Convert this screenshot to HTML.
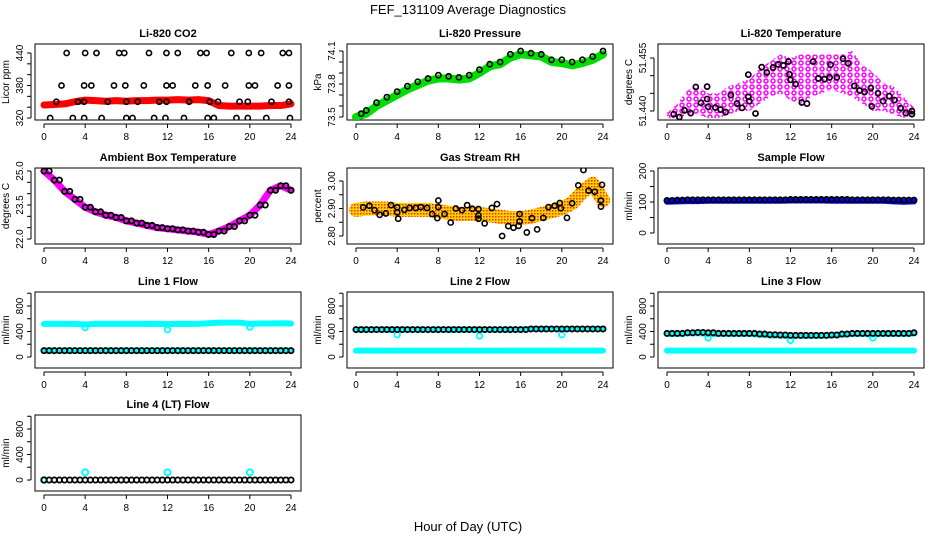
<!DOCTYPE html>
<html><head><meta charset="utf-8"><style>
body{margin:0;background:#fff;}
svg{display:block;font-family:"Liberation Sans",sans-serif;}
</style></head><body>
<svg id="chart" width="936" height="540" viewBox="0 0 936 540">
<defs>
<pattern id="rhpat" width="3" height="3" patternUnits="userSpaceOnUse"><rect width="3" height="3" fill="#ffd000"/><rect width="1.5" height="1.5" fill="#f03010"/></pattern>
<pattern id="magpat" width="7" height="6" patternUnits="userSpaceOnUse"><circle cx="3" cy="3" r="2" fill="none" stroke="#ff00ff" stroke-width="1.5"/></pattern>
</defs>
<text x="468" y="14" text-anchor="middle" font-size="13">FEF_131109  Average Diagnostics</text>
<text x="468" y="531" text-anchor="middle" font-size="13">Hour of Day (UTC)</text>
</svg>
<script>
// ---------- data ----------
const hourly = [0,1,2,3,4,5,6,7,8,9,10,11,12,13,14,15,16,17,18,19,20,21,22,23,24];
const co2Hours = [2.2,4,5.1,7.3,7.8,10.2,11.9,13,15.2,15.8,18.2,19.9,21.1,23.2,23.8, 1.7,3.9,4.6,6.8,7.9,9.7,11.9,12.5,14.7,15.9,17.6,19.9,20.5,22.7,23.8, 1.2,3.3,3.9,6.2,8,9.1,11.2,11.9,14.1,16.1,16.9,19,19.8,22.1,23.8, 0.6,2.8,3.9,5.6,8,8.6,10.7,11.8,13.6,15.9,16.5,18.7,19.8,21.6,23.9];
const co2Values = [440,440,440,440,440,440,440,440,440,440,440,440,440,440,440, 380,380,380,380,380,380,380,380,380,380,380,380,380,380,380, 350,350,350,350,350,350,350,350,350,350,350,350,350,350,350, 320,320,320,320,320,320,320,320,320,320,320,320,320,320,320];
const co2Band = [344,345,346,350,353,352,351,352,351,352,352,353,353,354,353,354,352,343,342,342,342,342,343,343,346];
const presHours = [0.5,1,2,3,4,5,6,7,8,9,10,11,12,13,14,15,16,17,18,19,20,21,22,23,24];
const presValues = [73.53,73.56,73.63,73.68,73.73,73.78,73.82,73.85,73.88,73.87,73.86,73.88,73.93,73.98,74.00,74.07,74.10,74.08,74.07,74.02,74.02,74.00,74.02,74.05,74.10];
const presBand = [73.50,73.53,73.60,73.65,73.70,73.75,73.79,73.83,73.85,73.85,73.84,73.85,73.90,73.96,73.98,74.04,74.07,74.06,74.05,74.00,73.99,73.97,73.99,74.02,74.07];
const tempHours = [0.65,1.2,1.7,2.3,2.8,3.3,3.9,3.9,4.0,4.7,5.2,5.7,6.2,6.8,7.3,7.9,8.0,7.9,8.6,9.2,9.7,10.3,10.8,11.3,11.8,11.9,12.0,12.5,13.1,13.6,14.2,14.7,15.3,15.8,15.9,16.5,17.1,17.6,18.2,18.7,19.2,19.8,19.9,20.5,21.0,21.6,22.1,22.7,23.2,23.8,23.8];
const tempValues = [51.4391,51.4383,51.4402,51.4394,51.4468,51.4423,51.4469,51.4434,51.4412,51.4410,51.4404,51.4397,51.4445,51.4421,51.4409,51.4440,51.4428,51.4503,51.4393,51.4524,51.4509,51.4523,51.4532,51.4529,51.4540,51.4504,51.4488,51.4476,51.4424,51.4421,51.4540,51.4492,51.4490,51.4495,51.4531,51.4495,51.4548,51.4535,51.4471,51.4458,51.4454,51.4465,51.4413,51.4450,51.4428,51.4442,51.4431,51.4408,51.4394,51.4400,51.4391];
const tempUpper = [51.4395,51.442,51.446,51.447,51.445,51.445,51.447,51.448,51.449,51.452,51.454,51.456,51.455,51.456,51.456,51.456,51.456,51.456,51.457,51.453,51.451,51.448,51.447,51.444,51.441];
const tempLower = [51.438,51.438,51.439,51.439,51.438,51.438,51.439,51.440,51.440,51.442,51.444,51.445,51.443,51.442,51.444,51.445,51.446,51.445,51.444,51.442,51.440,51.440,51.439,51.438,51.439];
const ambValues = [25.0,24.6,24.1,23.75,23.4,23.2,23.05,22.95,22.8,22.7,22.6,22.5,22.45,22.4,22.35,22.3,22.2,22.35,22.55,22.8,23.05,23.5,24.15,24.35,24.15];
const rhHours = [0.7,1.3,1.8,2.3,2.9,3.4,4.0,4.0,4.1,4.7,5.2,5.8,6.3,6.9,7.4,7.9,8.0,8.0,8.6,9.2,9.7,10.3,10.8,11.3,11.9,11.9,11.9,12.5,13.2,13.7,14.2,14.8,15.3,15.8,15.9,15.9,16.6,17.1,17.6,18.2,18.7,19.3,19.8,19.9,20.5,21.0,21.6,22.1,22.6,23.2,23.9,23.8,23.8];
const rhValues = [2.904,2.910,2.894,2.877,2.882,2.912,2.904,2.886,2.863,2.895,2.902,2.902,2.905,2.902,2.880,2.865,2.929,2.905,2.880,2.849,2.900,2.894,2.912,2.899,2.898,2.875,2.863,2.846,2.902,2.916,2.800,2.836,2.830,2.837,2.853,2.880,2.813,2.865,2.824,2.866,2.905,2.910,2.920,2.901,2.866,2.919,2.984,3.040,2.965,2.961,2.986,2.929,2.907];
const rhBandMid = [2.895,2.90,2.90,2.90,2.895,2.895,2.895,2.895,2.89,2.885,2.88,2.88,2.88,2.875,2.87,2.865,2.865,2.87,2.88,2.89,2.90,2.92,2.96,2.99,2.93];
const sampleBlack = [105,106,107,107,107,107,107,107,107,107,107,107,108,108,108,108,108,108,107,107,107,107,106,106,106];
const sampleBlue = [101,102,103,103,104,104,104,104,104,104,104,104,105,105,105,105,104,104,104,104,104,104,102,101,102];
const line1Black = [100,100,100,100,100,100,100,100,100,100,100,100,100,100,100,100,100,100,100,100,100,100,100,100,100];
const line1Cyan = [520,520,520,520,510,520,520,520,520,520,520,520,515,520,520,520,530,540,540,540,520,525,525,530,525];
const line2Black = [430,430,430,430,430,430,430,430,430,430,430,430,430,430,430,430,430,440,440,440,440,440,440,440,440];
const line2Cyan = [100,100,100,100,100,100,100,100,100,100,100,100,100,100,100,100,100,100,100,100,100,100,100,100,100];
const line3Black = [370,370,380,385,380,370,370,370,370,360,350,345,340,340,340,340,345,360,370,370,370,370,370,370,380];
const line3Top = [360,360,370,375,360,360,360,360,360,350,340,335,330,330,330,330,340,350,360,360,355,360,360,360,370];
const line3Low = [100,100,100,100,100,100,100,100,100,100,100,100,100,100,100,100,100,100,100,100,100,100,100,100,100];
const line4Black = [0,0,0,0,0,0,0,0,0,0,0,0,0,0,0,0,0,0,0,0,0,0,0,0,0];
const line4Spikes = [0,120,120,120];
const spikeHours = [0,4,12,20];
const dipHours = [4,12,20];
const line1Dips = [460,430,470];
const line2Dips = [350,330,350];
const line3Dips = [300,260,300];
const xTicks = [0,4,8,12,16,20,24];

// ---------- helpers ----------
const svg = document.getElementById('chart');
const NS = 'http://www.w3.org/2000/svg';
function mk(tag, attrs, parent){
  const e = document.createElementNS(NS, tag);
  for (const k in attrs) e.setAttribute(k, attrs[k]);
  (parent||svg).appendChild(e);
  return e;
}
const colL = [35,347,658];
const rowT = [44,168,292,415];
const W = 266, H = 76;

function makePanel(col,row,title,ylab,v1,p1,v2,p2,ticks,labels,dec,name){
  const L = colL[col], T = rowT[row];
  const g = mk('g',{});
  
  
  const sx = h => L + 9 + h * 247 / 24;
  const sy = v => p1 + (v - v1) * (p2 - p1) / (v2 - v1);
  const t = mk('text',{x:L+W/2,y:T-7,'text-anchor':'middle','font-size':'11','font-weight':'bold'},g);
  t.textContent = title;
  
  
  const frame = mk('rect',{x:L,y:T,width:W,height:H,fill:'none',stroke:'#000','stroke-width':1},g);
  
  
  const xa = mk('g',{},g);
  
  
  mk('line',{x1:sx(0),x2:sx(24),y1:T+H+4,y2:T+H+4,stroke:'#000'},xa);
  xTicks.forEach(h=>{
    mk('line',{x1:sx(h),x2:sx(h),y1:T+H+4,y2:T+H+8,stroke:'#000'},xa);
    const tx = mk('text',{x:sx(h),y:T+H+20,'text-anchor':'middle','font-size':'10'},xa);
    tx.textContent = h;
    
    
  });
  const ya = mk('g',{},g);
  
  
  mk('line',{x1:L-4,x2:L-4,y1:sy(ticks[0]),y2:sy(ticks[ticks.length-1]),stroke:'#000'},ya);
  ticks.forEach(v=>{
    mk('line',{x1:L-8,x2:L-4,y1:sy(v),y2:sy(v),stroke:'#000'},ya);
  });
  labels.forEach(v=>{
    const y = sy(v);
    const tx = mk('text',{x:L-12,y:y,'text-anchor':'middle','font-size':'10',transform:`rotate(-90 ${L-12} ${y})`},ya);
    tx.textContent = v.toFixed(dec);
    
    
  });
  const yl = mk('text',{x:L-26,y:T+H/2,'text-anchor':'middle','font-size':'10',transform:`rotate(-90 ${L-26} ${T+H/2})`},ya);
  yl.textContent = ylab;
  
  
  const clip = 'clip'+col+row;
  const cp = mk('clipPath',{id:clip},g);
  mk('rect',{x:L,y:T,width:W,height:H},cp);
  const plot = mk('g',{'clip-path':`url(#${clip})`},g);
  return {sx,sy,plot};
}
function band(P,hours,vals,color,w,name){
  const pts = hours.map((h,i)=>P.sx(h)+','+P.sy(vals[i])).join(' ');
  const e = mk('polyline',{points:pts,fill:'none',stroke:color,'stroke-width':w,'stroke-linejoin':'round','stroke-linecap':'round'},P.plot);
  
  
}
function dots(P,hours,vals,color,name,r,sw){
  const g = mk('g',{},P.plot);
  
  
  hours.forEach((h,i)=>{
    mk('circle',{cx:P.sx(h),cy:P.sy(vals[i]),r:r||2.6,fill:'none',stroke:color,'stroke-width':sw||1.6},g);
  });
}
function dense(P,vals,color,name){
  dots(P,hourly,vals,color,name,2.6,1.8);
  dots(P,hourly.slice(0,24).map(h=>h+0.5),vals.slice(0,24),color,name+'-half',2.6,1.8);
}
function area(P,hours,up,lo,fill,name){
  const pts = hours.map((h,i)=>P.sx(h)+','+P.sy(up[i])).concat(hours.slice().reverse().map((h,j)=>{const i=hours.length-1-j;return P.sx(h)+','+P.sy(lo[i]);})).join(' ');
  const e = mk('polygon',{points:pts,fill:fill,stroke:'none'},P.plot);
  
  
}

// ---------- panels ----------
let P;
P = makePanel(0,0,'Li-820 CO2','Licor ppm',440,53,320,118,[320,340,360,380,400,420,440],[320,380,440],0,'panel-co2');
band(P,hourly,co2Band,'#ff0000',7,'co2-band');
dots(P,co2Hours,co2Values,'#000','co2-points');

P = makePanel(1,0,'Li-820 Pressure','kPa',74.1,51,73.5,117,[73.5,73.6,73.7,73.8,73.9,74.0,74.1],[73.5,73.8,74.1],1,'panel-pressure');
band(P,hourly,presBand,'#00dd00',8,'pressure-band');
dots(P,presHours,presValues,'#000','pressure-points');

P = makePanel(2,0,'Li-820 Temperature','degrees C',51.455,58,51.440,111,[51.440,51.445,51.450,51.455],[51.440,51.455],3,'panel-temperature');
area(P,hourly,tempUpper,tempLower,'url(#magpat)','temperature-scatter');
dots(P,tempHours,tempValues,'#ff00ff','temperature-magenta',2.4,1.5);
dots(P,tempHours,tempValues,'#000','temperature-points');

P = makePanel(0,1,'Ambient Box Temperature','degrees C',25.0,171,22.0,239,[22.0,22.5,23.0,23.5,24.0,24.5,25.0],[22.0,23.5,25.0],1,'panel-ambient');
band(P,hourly,ambValues,'#ff00ff',7,'ambient-band');
dense(P,ambValues,'#000','ambient-points');

P = makePanel(1,1,'Gas Stream RH','percent',3.00,181,2.80,236,[2.80,2.85,2.90,2.95,3.00],[2.80,2.90,3.00],2,'panel-rh');
band(P,hourly,rhBandMid,'url(#rhpat)',14,'rh-band');
dots(P,rhHours,rhValues,'#000','rh-points');

P = makePanel(2,1,'Sample Flow','ml/min',200,171,0,233,[0,50,100,150,200],[0,100,200],0,'panel-sample-flow');
band(P,hourly,sampleBlue,'#0000ff',6,'sample-band');
dense(P,sampleBlack,'#000','sample-points');

const flowTicks=[0,200,400,600,800,1000], flowLabs=[0,400,800];
P = makePanel(0,2,'Line 1 Flow','ml/min',0,357,800,306,flowTicks,flowLabs,0,'panel-line1');
band(P,hourly,line1Cyan,'#00ffff',6,'line1-cyan');
band(P,hourly,line1Black,'#00ffff',6,'line1-cyan-low');
dots(P,dipHours,line1Dips,'#00ffff','line1-dips',2.8,1.8);
dense(P,line1Black,'#000','line1-points');

P = makePanel(1,2,'Line 2 Flow','ml/min',0,357,800,306,flowTicks,flowLabs,0,'panel-line2');
band(P,hourly,line2Cyan,'#00ffff',6,'line2-cyan');
band(P,hourly,line2Black,'#00ffff',6,'line2-cyan-top');
dots(P,dipHours,line2Dips,'#00ffff','line2-dips',2.8,1.8);
dense(P,line2Black,'#000','line2-points');

P = makePanel(2,2,'Line 3 Flow','ml/min',0,357,800,306,flowTicks,flowLabs,0,'panel-line3');
band(P,hourly,line3Low,'#00ffff',6,'line3-cyan-low');
band(P,hourly,line3Top,'#00ffff',6,'line3-cyan-top');
dots(P,dipHours,line3Dips,'#00ffff','line3-dips',2.8,1.8);
dense(P,line3Black,'#000','line3-points');

P = makePanel(0,3,'Line 4 (LT) Flow','ml/min',0,480,800,429,flowTicks,flowLabs,0,'panel-line4');
dots(P,spikeHours,line4Spikes,'#00ffff','line4-cyan',3,2);
dense(P,line4Black,'#000','line4-points');
</script>
</body></html>
